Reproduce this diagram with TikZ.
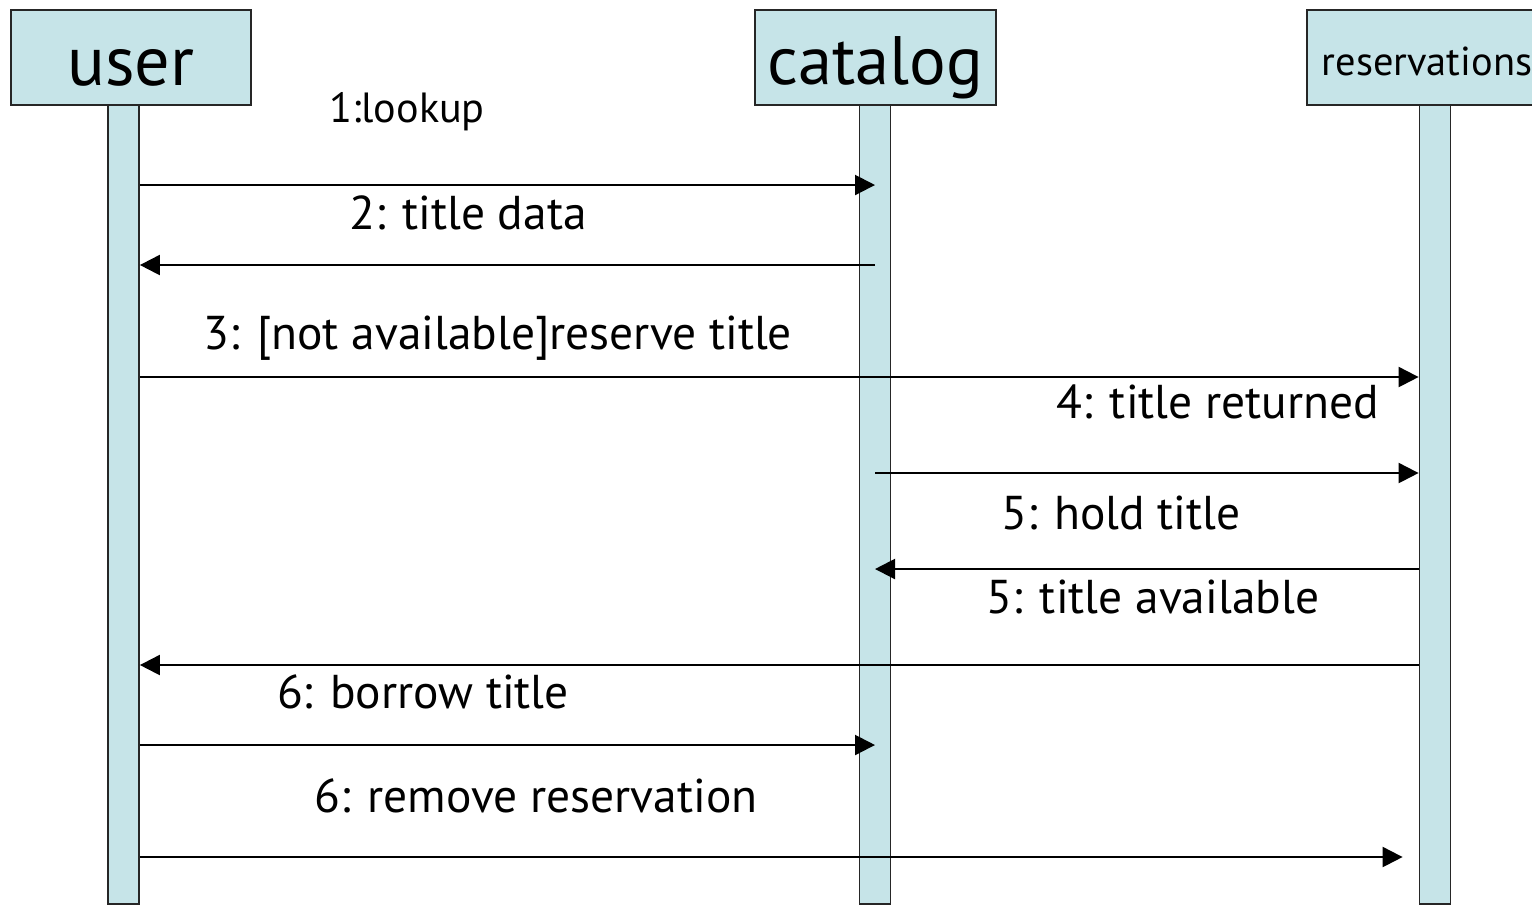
\documentclass[tikz,border=0pt]{standalone}
\usepackage{fontspec}
\setmainfont{PT Sans}
\usetikzlibrary{arrows.meta}
\definecolor{bleuvie}{HTML}{C6E4E8}

\begin{document}
\begin{tikzpicture}[
	objet/.style={rectangle,draw=black!85,line width=0.5pt,fill=bleuvie,minimum height=0.95cm,inner sep=0pt},
	vie/.style={rectangle,draw=black!85,line width=0.5pt,fill=bleuvie,minimum width=0.31cm,minimum height=7.99cm,inner sep=0pt},
	msg/.style={-{Triangle[length=0.2cm,width=0.2cm]},line width=0.6pt},
	texte/.style={anchor=base,inner sep=0pt,font=\fontsize{13.5}{16}\selectfont}
	]
		\useasboundingbox (0,0) rectangle (15.32,-9.05);
		\clip (0,0) rectangle (15.32,-9.05);

		%lignes de vie
		\node (user line) at(1.235,-5.045) [vie] {};
		\node (catalog line) at(8.75,-5.045) [vie] {};
		\node (reservations line) at(14.35,-5.045) [vie] {};

		%objets
		\node (user) at(1.31,-0.575) [objet,minimum width=2.4cm,text height=17.5pt,text depth=1.6pt,font=\fontsize{20}{24}\selectfont] {user};
		\node (catalog) at(8.755,-0.575) [objet,minimum width=2.41cm,text height=17pt,text depth=1.4pt,font=\fontsize{19.5}{23}\selectfont] {catalog};
		\node (reservations) at(14.27,-0.575) [objet,minimum width=2.4cm,text height=10.5pt,text depth=0.5pt,font=\fontsize{11.5}{14}\selectfont] {reservations};

		%messages
		\path
		(user line.east |- 0,-1.85) edge[msg] (catalog line.center |- 0,-1.85)
		(catalog line.center |- 0,-2.65) edge[msg] (user line.east |- 0,-2.65)
		(user line.east |- 0,-3.77) edge[msg] (reservations line.west |- 0,-3.77)
		(catalog line.center |- 0,-4.73) edge[msg] (reservations line.west |- 0,-4.73)
		(reservations line.west |- 0,-5.69) edge[msg] (catalog line.center |- 0,-5.69)
		(reservations line.west |- 0,-6.65) edge[msg] (user line.east |- 0,-6.65)
		(user line.east |- 0,-7.45) edge[msg] (catalog line.center |- 0,-7.45)
		(user line.east |- 0,-8.57) edge[msg,shorten >=0.16cm] (reservations line.west |- 0,-8.57)
		;

		%textes des messages
		\node (msg 1) at(4.07,-1.22) [texte,font=\fontsize{12}{14}\selectfont] {1:lookup};
		\node (msg 2) at(4.68,-2.29) [texte] {2: title data};
		\node (msg 3) at(4.98,-3.49) [texte] {3: [not available]reserve title};
		\node (msg 4) at(12.18,-4.18) [texte] {4: title returned};
		\node (msg 5) at(11.21,-5.29) [texte] {5: hold title};
		\node (msg 6) at(11.53,-6.13) [texte] {5: title available};
		\node (msg 7) at(4.23,-7.08) [texte] {6: borrow title};
		\node (msg 8) at(5.36,-8.12) [texte] {6: remove reservation};
	\end{tikzpicture}
\end{document}
